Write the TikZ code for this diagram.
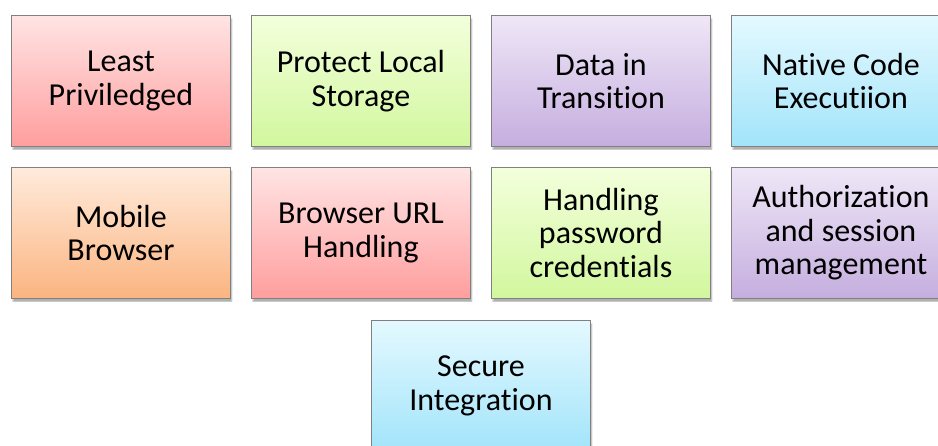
\documentclass[tikz,border=0pt]{standalone}
\usepackage{fontspec}
\setmainfont{Carlito}[RawFeature=-liga, RawFeature=-clig, RawFeature=-calt, RawFeature=-dlig]
\usetikzlibrary{calc}

\definecolor{redtop}{HTML}{FFE4E4}\definecolor{redbot}{HTML}{FF9E9E}
\definecolor{greentop}{HTML}{F3FFDC}\definecolor{greenbot}{HTML}{D2F79E}
\definecolor{purptop}{HTML}{EFE7F7}\definecolor{purpbot}{HTML}{C5AEDF}
\definecolor{bluetop}{HTML}{E4F9FF}\definecolor{bluebot}{HTML}{A2E4FA}
\definecolor{orangetop}{HTML}{FFEBDC}\definecolor{orangebot}{HTML}{FBB480}
\definecolor{edge}{HTML}{808080}

\tikzset{
  x=1pt, y=-1pt,
  card/.style={rectangle, draw=edge, line width=0.9pt,
    minimum width=219pt, minimum height=131pt, anchor=north west,
    text width=212pt, align=flush center, inner sep=0pt,
    font=\fontsize{32}{33.5}\selectfont},
  redcard/.style={card, top color=redtop, bottom color=redbot},
  greencard/.style={card, top color=greentop, bottom color=greenbot},
  purpcard/.style={card, top color=purptop, bottom color=purpbot},
  bluecard/.style={card, top color=bluetop, bottom color=bluebot},
  orangecard/.style={card, top color=orangetop, bottom color=orangebot},
}

% soft shadow below a card, built from stacked translucent rectangles
\newcommand{\softshadow}[2]{%
  \foreach \k in {0,...,5}{
    \fill[black, opacity=0.06]
      ($(#1,#2)+(1+\k*0.4,3+\k*0.5)$) rectangle ($(#1+219,#2+131)+(2.5-\k*0.3,4.5-\k*0.3)$);
  }%
}

\begin{document}
\begin{tikzpicture}
\useasboundingbox (0,0) rectangle (938,446);
\clip (0,0) rectangle (938,446);

% shadows
\softshadow{11}{15}\softshadow{251}{15}\softshadow{491}{15}\softshadow{731}{15}
\softshadow{11}{167}\softshadow{251}{167}\softshadow{491}{167}\softshadow{731}{167}
\softshadow{371}{320}

% first row
\node[redcard]    (least)   at (11,15)  {Least\\Priviledged};
\node[greencard]  (storage) at (251,15) {Protect Local\\Storage};
\node[purpcard]   (transit) at (491,15) {Data in\\Transition};
\node[bluecard]   (native)  at (731,15) {Native Code\\Executiion};

% second row
\node[orangecard] (mobile)  at (11,167)  {Mobile\\Browser};
\node[redcard]    (url)     at (251,167) {Browser URL\\Handling};
\node[greencard]  (pwd)     at (491,167) {Handling\\password\\credentials};
\node[purpcard]   (auth)    at (731,167) {Authorization\\and session\\management};

% third row
\node[bluecard]   (secure)  at (371,320) {Secure\\Integration};
\end{tikzpicture}
\end{document}
